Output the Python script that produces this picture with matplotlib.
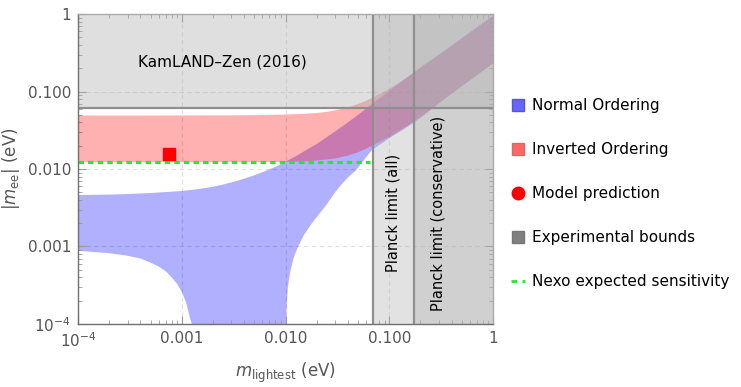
import numpy as np
import matplotlib
matplotlib.use('Agg')
import matplotlib.pyplot as plt
from matplotlib.lines import Line2D
from matplotlib.ticker import FixedLocator, FixedFormatter, LogLocator, NullFormatter

# DATA (eV)
m_io = [1e-4, 3e-4, 1e-3, 3e-3, 0.005, 0.01, 0.015, 0.02, 0.025, 0.03, 0.04, 0.05, 0.06, 0.07, 0.085,
        0.1, 0.13, 0.17, 0.22, 0.3, 0.4, 0.5, 0.7, 1.0]
io_upper = [0.0497, 0.0497, 0.0498, 0.0500, 0.0503, 0.0512, 0.0522, 0.0537, 0.0555, 0.0580, 0.0635,
            0.0703, 0.0780, 0.0860, 0.0980, 0.111, 0.138, 0.177, 0.226, 0.30, 0.395, 0.49, 0.68, 0.95]
io_lower = [0.0124, 0.0124, 0.0124, 0.0124, 0.0124, 0.0125, 0.0127, 0.0131, 0.0135, 0.0139, 0.0152,
            0.0168, 0.0187, 0.0208, 0.0238, 0.0266, 0.0330, 0.0415, 0.053, 0.072, 0.096, 0.120, 0.166, 0.235]

m_no_up = [1e-4, 2e-4, 3e-4, 5e-4, 1e-3, 1.5e-3, 2e-3, 2.5e-3, 3e-3, 4e-3, 5e-3, 6e-3, 7e-3, 8e-3, 0.01,
           0.013, 0.016, 0.02, 0.025, 0.03, 0.035, 0.042, 0.048, 0.057, 0.068, 0.085, 0.1, 0.13, 0.17,
           0.22, 0.3, 0.4, 0.5, 0.7, 1.0]
no_upper = [0.00462, 0.00468, 0.00475, 0.0049, 0.0052, 0.00555, 0.0059, 0.0063, 0.0067, 0.0075, 0.0083,
            0.0091, 0.0099, 0.0107, 0.0124, 0.0150, 0.0177, 0.0210, 0.0258, 0.0305, 0.0352, 0.0420,
            0.0480, 0.0570, 0.0690, 0.0860, 0.102, 0.133, 0.174, 0.225, 0.30, 0.395, 0.49, 0.68, 0.95]
m_no_lo = [1e-4, 2e-4, 3e-4, 4e-4, 5e-4, 6e-4, 7e-4, 8e-4, 9e-4, 1e-3, 1.1e-3, 1.15e-3, 1.2e-3, 1.25e-3,
           1.3e-3, 0.0100, 0.0101, 0.0102, 0.0103, 0.0105, 0.0108, 0.0112, 0.012, 0.013, 0.015, 0.0175,
           0.02, 0.025, 0.03, 0.035, 0.04, 0.048, 0.057, 0.068, 0.085, 0.1, 0.13, 0.17, 0.22, 0.3, 0.4,
           0.5, 0.7, 1.0]
no_lower = [0.00088, 0.00082, 0.00076, 0.00070, 0.00062, 0.00055, 0.00048, 0.00040, 0.00033, 0.00026,
            0.00019, 0.00015, 0.00012, 0.0001, 1e-6, 1e-6, 0.0001, 0.00013, 0.00019, 0.00028, 0.00038,
            0.0005, 0.00072, 0.00095, 0.0014, 0.0019, 0.0024, 0.0035, 0.0050, 0.0064, 0.0078, 0.0097,
            0.0130, 0.0176, 0.0215, 0.0250, 0.0310, 0.039, 0.050, 0.070, 0.094, 0.117, 0.163, 0.232]

model_m = [0.00075]
model_mee = [0.0156]

nexo_m = [1e-4, 0.065]
nexo_mee = [0.0124, 0.0124]

kamland_limit = 0.061
planck_all = 0.069
planck_cons = 0.172

x_ticks = [1e-4, 1e-3, 1e-2, 1e-1, 1]
x_labels = ['$10^{-4}$', '0.001', '0.010', '0.100', '1']
y_ticks = [1e-4, 1e-3, 1e-2, 1e-1, 1]
y_labels = ['$10^{-4}$', '0.001', '0.010', '0.100', '1']

# FIGURE
fig = plt.figure(figsize=(7.41, 3.87), dpi=100)
ax = fig.add_axes([0.1053, 0.1628, 0.56, 0.801])
ax.set_xscale('log')
ax.set_yscale('log')
ax.set_xlim(1e-4, 1)
ax.set_ylim(1e-4, 1)

# grid
for v in [1e-3, 1e-2, 1e-1]:
    ax.axvline(v, color='#e0e0e0', lw=0.8, ls=(0, (4, 3)), zorder=0)
    ax.axhline(v, color='#e0e0e0', lw=0.8, ls=(0, (4, 3)), zorder=0)

# bands
ax.fill(np.concatenate([m_no_up, m_no_lo[::-1]]), np.concatenate([no_upper, no_lower[::-1]]),
        color=(0.0, 0.0, 1.0), alpha=0.31, lw=0, zorder=1)
ax.fill_between(m_io, io_lower, io_upper, color=(1.0, 0.0, 0.0), alpha=0.31, lw=0, zorder=2)

# experimental bounds
ax.axhspan(kamland_limit, 1, color='#b0b0b0', alpha=0.4, lw=0, zorder=3)
ax.axvspan(planck_all, 1, color='#b0b0b0', alpha=0.355, lw=0, zorder=3)
ax.axvspan(planck_cons, 1, color='#b0b0b0', alpha=0.355, lw=0, zorder=3)
ax.axhline(kamland_limit, color='#8f8f8f', lw=1.6, zorder=4)
ax.axvline(planck_all, color='#8f8f8f', lw=1.6, zorder=4)
ax.axvline(planck_cons, color='#8f8f8f', lw=1.6, zorder=4)

# nexo + model
ax.plot(nexo_m, nexo_mee, color='#22ee22', lw=2.3, ls=(0, (1.7, 1.3)), zorder=5)
ax.plot(model_m, model_mee, marker='s', ms=8, color='#ff0000', ls='none', zorder=6)

# text labels
ax.text(0.00244, 0.24, 'KamLAND\u2013Zen (2016)', ha='center', va='center', fontsize=11, zorder=7)
ax.text(0.108, 0.00047, 'Planck limit (all)', rotation=90, ha='center', va='bottom', fontsize=10.5, zorder=7)
ax.text(0.295, 0.000149, 'Planck limit (conservative)', rotation=90, ha='center', va='bottom',
        fontsize=10.5, zorder=7)

# axes styling
ax.xaxis.set_major_locator(FixedLocator(x_ticks))
ax.xaxis.set_major_formatter(FixedFormatter(x_labels))
ax.yaxis.set_major_locator(FixedLocator(y_ticks))
ax.yaxis.set_major_formatter(FixedFormatter(y_labels))
ax.xaxis.set_minor_locator(LogLocator(base=10, subs=np.arange(2, 10), numticks=20))
ax.yaxis.set_minor_locator(LogLocator(base=10, subs=np.arange(2, 10), numticks=20))
ax.xaxis.set_minor_formatter(NullFormatter())
ax.yaxis.set_minor_formatter(NullFormatter())
ax.tick_params(which='both', direction='in', top=True, right=True, color='#999999')
ax.tick_params(which='major', length=6, width=0.8, labelsize=11, labelcolor='#555555', pad=5)
ax.tick_params(which='minor', length=3, width=0.6)
for s in ['left', 'bottom']:
    ax.spines[s].set_color('#707070')
for s in ['top', 'right']:
    ax.spines[s].set_color('#aaaaaa')
for s in ax.spines.values():
    s.set_linewidth(1.0)
    s.set_zorder(8)

ax.set_xlabel(r'$m_{\rm lightest}$ (eV)', fontsize=12, color='#555555', labelpad=8)
ax.set_ylabel(r'$|m_{\rm ee}|$ (eV)', fontsize=12, color='#555555', labelpad=4)

# legend
handles = [
    Line2D([], [], marker='s', ms=9, ls='none', mfc='#6666ff', mec='#5555dd'),
    Line2D([], [], marker='s', ms=9, ls='none', mfc='#ff6666', mec='#dd6666'),
    Line2D([], [], marker='o', ms=9, ls='none', mfc='#ff0000', mec='#ff0000'),
    Line2D([], [], marker='s', ms=9, ls='none', mfc='#808080', mec='#777777'),
    Line2D([], [], color='#22ee22', lw=2, ls=(0, (2, 2))),
]
labels = ['Normal Ordering', 'Inverted Ordering', 'Model prediction', 'Experimental bounds',
          'Nexo expected sensitivity']
fig.legend(handles, labels, loc='center left', bbox_to_anchor=(0.689, 0.5), frameon=False,
           fontsize=11, handlelength=0.95, handletextpad=0.45, labelspacing=1.9,
           borderpad=0, borderaxespad=0)

fig.savefig('out.png', dpi=100)
